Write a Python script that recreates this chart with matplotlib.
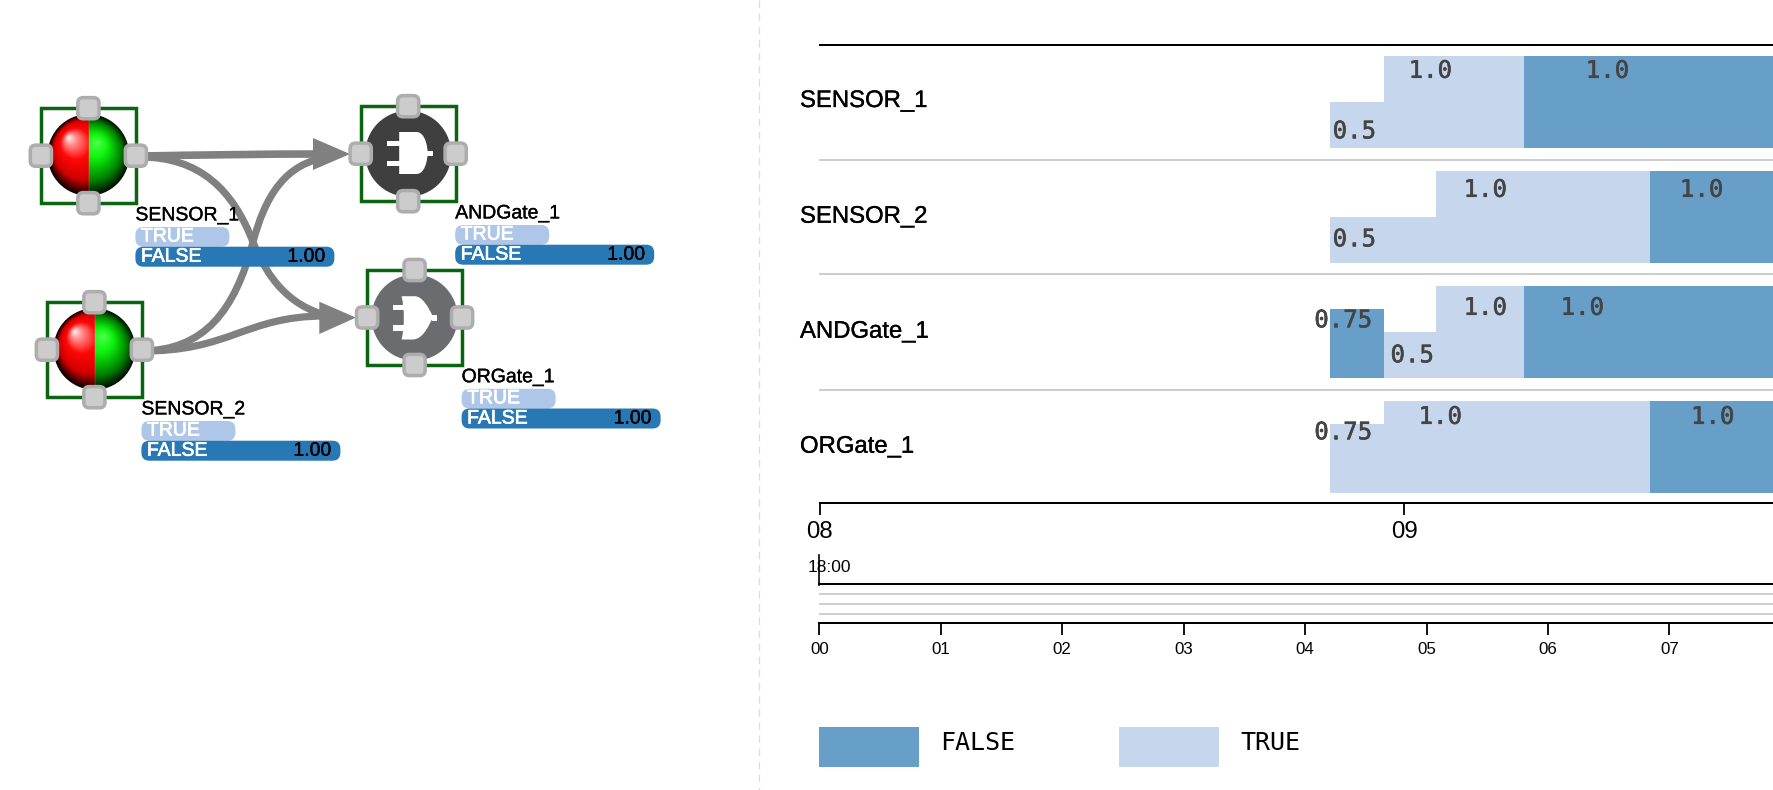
import numpy as np
from matplotlib import pyplot as plt
from matplotlib import patheffects as pe
from matplotlib.patches import Circle, FancyBboxPatch, PathPatch, Polygon, Rectangle
from matplotlib.path import Path

plt.rcParams['font.family'] = 'Liberation Sans'
MONO = 'DejaVu Sans Mono'

COL_FALSE = '#689fc9'
COL_TRUE = '#c6d6ed'

# timeline rows (x in hours, labels are y above the axis line)
rows = ['SENSOR_1', 'SENSOR_2', 'ANDGate_1', 'ORGate_1']

sensor1_start = [8.873, 8.965, 9.205]
sensor1_end = [8.965, 9.205, 10.0]
sensor1_val = [0.5, 1.0, 1.0]
sensor1_state = ['TRUE', 'TRUE', 'FALSE']
sensor1_text_x = [8.915, 9.045, 9.348]
sensor1_text_y = [372, 432.5, 432.5]

sensor2_start = [8.873, 9.055, 9.421]
sensor2_end = [9.055, 9.421, 10.0]
sensor2_val = [0.5, 1.0, 1.0]
sensor2_state = ['TRUE', 'TRUE', 'FALSE']
sensor2_text_x = [8.915, 9.139, 9.509]
sensor2_text_y = [264, 313.5, 313.5]

andgate_start = [8.873, 8.965, 9.055, 9.205]
andgate_end = [8.965, 9.055, 9.205, 10.0]
andgate_val = [0.75, 0.5, 1.0, 1.0]
andgate_state = ['FALSE', 'TRUE', 'TRUE', 'FALSE']
andgate_text_x = [8.896, 9.014, 9.139, 9.305]
andgate_text_y = [183, 148, 195.5, 195.5]

orgate_start = [8.873, 8.965, 9.421]
orgate_end = [8.965, 9.421, 10.0]
orgate_val = [0.75, 1.0, 1.0]
orgate_state = ['TRUE', 'TRUE', 'FALSE']
orgate_text_x = [8.896, 9.062, 9.528]
orgate_text_y = [71, 86.5, 86.5]

row_base = [355.3, 240.3, 125.0, 10.3]
row_height = 92
separators = [343, 229, 113]

main_ticks = [8, 9]
main_labels = ['08', '09']
context_ticks = [0, 1, 2, 3, 4, 5, 6, 7]
context_labels = ['00', '01', '02', '03', '04', '05', '06', '07']

# node diagram
node_names = ['SENSOR_1', 'SENSOR_2', 'ANDGate_1', 'ORGate_1']
node_x = [88.4, 94.4, 408.2, 414.6]
node_y = [155.7, 349.7, 153.7, 317.5]
node_false = ['1.00', '1.00', '1.00', '1.00']

W, H = 1774, 790
fig = plt.figure(figsize=(W / 100, H / 100), dpi=100)
ov = fig.add_axes([0, 0, 1, 1])
ov.set_axis_off()


def heavy(color, width=0.35):
    # the original text is a little blurred and reads heavier
    return [pe.withStroke(linewidth=width, foreground=color)]


def sphere(cx, cy, r, fx, fy, half, stops):
    # radial gradient with a focal point, one half of the circle only
    xs = np.linspace(cx - r, cx + r, 200)
    ys = np.linspace(cy - r, cy + r, 200)
    px, py = np.meshgrid(xs, ys)
    dx, dy = px - fx, py - fy
    ox, oy = fx - cx, fy - cy
    a = dx * dx + dy * dy + 1e-9
    b = ox * dx + oy * dy
    c = ox * ox + oy * oy - r * r
    s = (-b + np.sqrt(np.maximum(b * b - a * c, 0))) / a
    t = np.clip(1 / np.maximum(s, 1e-6), 0, 1)
    pos = [p[0] for p in stops]
    img = np.zeros(px.shape + (4,))
    for i in range(3):
        img[..., i] = np.interp(t, pos, [p[1][i] for p in stops])
    img[..., 3] = 1
    if half == 'left':
        img[px > cx, 3] = 0
    else:
        img[px <= cx, 3] = 0
    im = ov.imshow(img, extent=(cx - r, cx + r, cy + r, cy - r), zorder=3, aspect='auto')
    im.set_clip_path(Circle((cx, cy), r, transform=ov.transData))


def edge(points, lw=7.2):
    codes = [Path.MOVETO] + [Path.CURVE4] * (len(points) - 1)
    ov.add_patch(PathPatch(Path(points, codes), fc='none', ec='#808080', lw=lw * 0.72,
                           zorder=2, capstyle='butt'))


# edges
edge([(140, 156), (200, 155), (260, 154), (325, 154)], lw=7.6)
edge([(140, 157), (200, 157), (233, 190), (253, 242), (268, 280), (290, 305), (325, 315)])
edge([(140, 351), (205, 351), (235, 310), (253, 242), (265, 197), (285, 162), (330, 157)])
edge([(140, 351), (230, 352), (245, 316), (325, 316)])
ov.add_patch(Polygon([(313, 138), (350, 154), (313, 170)], fc='#808080', ec='none', zorder=2))
ov.add_patch(Polygon([(319.3, 301.7), (356, 317.6), (319.3, 334)], fc='#808080', ec='none', zorder=2))

# sensors
for i in [0, 1]:
    cx = node_x[i]
    cy = node_y[i] - 0.7
    sphere(cx, cy, 40.8, cx - 21, cy - 18, 'left',
           [(0, (1, 0.95, 0.95)), (0.14, (1, 0.55, 0.55)), (0.38, (1, 0.03, 0.03)),
            (0.72, (0.82, 0, 0)), (1, (0.02, 0, 0))])
    sphere(cx, cy, 40.8, cx + 9, cy - 13, 'right',
           [(0, (0.3, 1, 0.3)), (0.3, (0.05, 0.95, 0.05)), (0.72, (0, 0.5, 0)), (1, (0, 0.02, 0))])

# gates
ov.add_patch(Circle((node_x[2], node_y[2]), 43, fc='#3f3f3f', ec='none', zorder=3))
ov.add_patch(Circle((node_x[3], node_y[3]), 43, fc='#6b6c70', ec='none', zorder=3))


def gate_icon(cx, cy, verts, codes, stubs):
    shifted = [(cx + v[0], cy + v[1]) for v in verts]
    ov.add_patch(PathPatch(Path(shifted, codes), fc='white', ec='none', zorder=4))
    for x0, y0, x1, y1 in stubs:
        ov.add_patch(Rectangle((cx + x0, cy + y0), x1 - x0, y1 - y0, fc='white', ec='none', zorder=4))


M, L, C, Z = Path.MOVETO, Path.LINETO, Path.CURVE4, Path.CLOSEPOLY
and_verts = [(-9, -21.7), (8.4, -21.7), (16, -21.7), (19.4, -9), (19.4, -1),
             (19.4, 8), (16, 20.3), (8.4, 20.3), (-9, 20.3), (-9, -21.7)]
and_codes = [M, L, C, C, C, C, C, C, L, Z]
gate_icon(node_x[2], node_y[2], and_verts, and_codes,
          [(-21, -13, -8, -8), (-21, 7.7, -8, 12.7), (19, -3, 24.4, 2.3)])
or_verts = [(-13, -21.3), (0, -21.3), (8, -21.3), (14, -10), (18.5, -0.5),
            (14, 9), (8, 22), (-2, 22), (-13, 22), (-10, 8), (-10, -8), (-13, -21.3), (-13, -21.3)]
or_codes = [M, L, C, C, C, C, C, C, L, C, C, C, Z]
gate_icon(node_x[3], node_y[3], or_verts, or_codes,
          [(-21.7, -13, -9, -8), (-21.7, 7.7, -9, 13.4), (17, -2.3, 22.7, 3.3)])

for name, x, y, fv in zip(node_names, node_x, node_y, node_false):
    # selection box and handles
    ov.add_patch(Rectangle((x - 47.5, y - 47.5), 95, 95, fc='none', ec='#0b640f', lw=2.5, zorder=4))
    for hx, hy in [(x, y - 47.5), (x, y + 47.5), (x - 47.5, y), (x + 47.5, y)]:
        ov.add_patch(FancyBboxPatch((hx - 10.6, hy - 10.6), 21.2, 21.2,
                                    boxstyle='round,pad=0,rounding_size=5.5',
                                    fc='#cccccc', ec='#adadad', lw=2.5, zorder=5))
    # label and state bars
    lx = x + 47
    ov.text(lx, y + 60.3, name, fontsize=14, ha='left', va='center', color='black', zorder=7,
            path_effects=heavy('black', 0.25))
    ov.add_patch(FancyBboxPatch((lx, y + 71.3), 94, 19.7,
                                boxstyle='round,pad=0,rounding_size=8',
                                fc='#aec7e8', ec='none', zorder=6))
    ov.add_patch(FancyBboxPatch((lx, y + 91), 199, 20,
                                boxstyle='round,pad=0,rounding_size=8',
                                fc='#2878b5', ec='none', zorder=6))
    ov.text(lx + 5.5, y + 81.3, 'TRUE', fontsize=14, ha='left', va='center', color='white', zorder=7,
            path_effects=heavy('white', 0.5))
    ov.text(lx + 5.5, y + 101.5, 'FALSE', fontsize=14, ha='left', va='center', color='white', zorder=7,
            path_effects=heavy('white', 0.5))
    ov.text(lx + 190, y + 101.5, fv, fontsize=14, ha='right', va='center', color='black', zorder=7,
            path_effects=heavy('black', 0.25))

# divider between the two panels
ov.plot([759, 759], [0, H], color='#dddddd', lw=0.9, dashes=(6, 4.5), zorder=1)

# row names
for name, ty in zip(rows, [101, 216.7, 331.7, 446.7]):
    ov.text(800, ty, name, fontsize=17.2, ha='left', va='center', color='black',
            path_effects=heavy('black', 0.25))

# context marker
ov.plot([819.5, 819.5], [555, 585], color='black', lw=1.2, zorder=3)
ov.text(808, 567, '18:00', fontsize=12.5, ha='left', va='center', color='black')

# legend
ov.add_patch(Rectangle((819.5, 727.3), 100, 40, fc=COL_FALSE, ec='none'))
ov.add_patch(Rectangle((1119.5, 727.3), 100, 40, fc=COL_TRUE, ec='none'))
ov.text(940.5, 743, 'FALSE', family=MONO, fontsize=18, ha='left', va='center', color='black')
ov.text(1240.5, 743, 'TRUE', family=MONO, fontsize=18, ha='left', va='center', color='black')

ov.set_xlim(0, W)
ov.set_ylim(H, 0)

# main timeline
ax = fig.add_axes([819.5 / W, (H - 503.3) / H, (W - 819.5) / W, 458.6 / H])
ax.patch.set_alpha(0)
data = [(sensor1_start, sensor1_end, sensor1_val, sensor1_state, sensor1_text_x, sensor1_text_y),
        (sensor2_start, sensor2_end, sensor2_val, sensor2_state, sensor2_text_x, sensor2_text_y),
        (andgate_start, andgate_end, andgate_val, andgate_state, andgate_text_x, andgate_text_y),
        (orgate_start, orgate_end, orgate_val, orgate_state, orgate_text_x, orgate_text_y)]
for base, (st, en, val, state, tx, ty) in zip(row_base, data):
    for s, e, v, c, x, y in zip(st, en, val, state, tx, ty):
        ax.bar(s, v * row_height, width=e - s, bottom=base, align='edge', linewidth=0,
               color=COL_FALSE if c == 'FALSE' else COL_TRUE)
        ax.text(x, y, str(v), family=MONO, fontsize=17.3, ha='center', va='center', color='#444444',
                path_effects=heavy('#444444', 0.4))
for y in separators:
    ax.axhline(y, color='#cccccc', lw=1.4)
ax.set_xlim(8, 8 + (W - 819.5) / 584.6)
ax.set_ylim(0, 458.6)
ax.set_xticks(main_ticks)
ax.set_xticklabels(main_labels, fontsize=17.3)
ax.set_yticks([])
ax.tick_params(axis='x', length=8.6, width=1.3, pad=4.5)
for side in ['left', 'right']:
    ax.spines[side].set_visible(False)
for side in ['top', 'bottom']:
    ax.spines[side].set_linewidth(1.45)

# overview strip
ctx = fig.add_axes([819.5 / W, (H - 623.3) / H, (W - 819.5) / W, 39 / H])
ctx.patch.set_alpha(0)
for y in [10, 20, 30]:
    ctx.axhline(y, color='#cccccc', lw=1.3)
ctx.set_xlim(0, (W - 819.5) / 121.4)
ctx.set_ylim(39, 0)
ctx.set_xticks(context_ticks)
ctx.set_xticklabels(context_labels, fontsize=12.2)
ctx.set_yticks([])
ctx.tick_params(axis='x', length=8.6, width=1.3, pad=5)
for side in ['left', 'right']:
    ctx.spines[side].set_visible(False)
for side in ['top', 'bottom']:
    ctx.spines[side].set_linewidth(1.45)

plt.savefig('out.png', dpi=100)
